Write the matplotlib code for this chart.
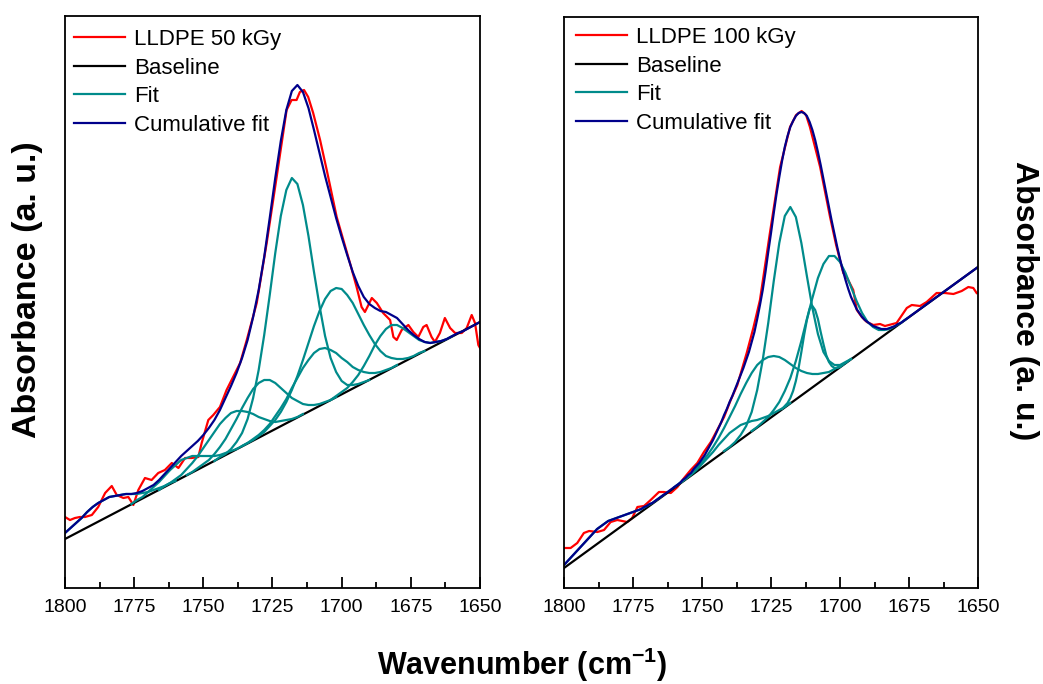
import numpy as np
import matplotlib
matplotlib.use("Agg")
import matplotlib.pyplot as plt

plt.rcParams['font.family'] = ['Liberation Sans', 'DejaVu Sans']
plt.rcParams['mathtext.fontset'] = 'custom'
plt.rcParams['mathtext.bf'] = 'Liberation Sans:bold'
plt.rcParams['mathtext.rm'] = 'Liberation Sans'

# ---- LLDPE 50 kGy (absorbance in arbitrary units) ----
l50_wn = [1800.0, 1798.2, 1796.4, 1794.6, 1792.8, 1790.3, 1788.0, 1785.5, 1783.1, 1781.3, 1778.9, 1777.1,
          1775.3, 1773.5, 1771.1, 1768.7, 1766.3, 1763.9, 1761.4, 1759.0, 1756.6, 1754.2, 1751.8, 1750.6,
          1748.2, 1746.4, 1744.0, 1741.6, 1736.7, 1734.3, 1730.7, 1727.1, 1723.5, 1719.9, 1718.1, 1716.3,
          1715.1, 1713.6, 1712.1, 1710.3, 1707.8, 1705.4, 1701.8, 1699.4, 1697.0, 1694.6, 1692.8, 1691.6,
          1689.1, 1687.3, 1685.0, 1682.5, 1681.3, 1680.1, 1678.3, 1675.9, 1674.1, 1672.3, 1670.5, 1669.3,
          1667.5, 1666.3, 1664.5, 1662.7, 1660.8, 1659.0, 1656.6, 1654.8, 1653.0, 1651.8, 1650.6, 1650.0]
l50_abs = [71, 68, 70, 71, 71, 73, 81, 95, 102, 93, 90, 91, 83, 98, 110, 108, 115, 118, 125, 120, 130, 130,
           131, 145, 168, 173, 181, 198, 225, 248, 285, 345, 411, 478, 488, 488, 496, 498, 491, 475, 448, 418,
           371, 348, 325, 301, 281, 276, 290, 285, 275, 268, 251, 248, 258, 263, 256, 251, 261, 263, 251, 246,
           255, 270, 260, 255, 255, 260, 273, 265, 243, 240]
l50_base_wn = [1800, 1650]
l50_base = [49, 266]
# cumulative fit, every 2 cm-1 from 1800
l50_cum = [55, 60, 65, 70, 76, 81, 85, 88, 91, 92, 93, 94, 94, 95, 97, 100, 103, 108, 114, 120, 126, 132, 137,
           142, 147, 153, 160, 168, 178, 190, 202, 215, 230, 248, 271, 298, 331, 370, 410, 447, 478, 497, 503,
           496, 480, 458, 435, 412, 391, 370, 351, 333, 316, 302, 291, 284, 280, 277, 276, 273, 270, 264, 258,
           253, 249, 246, 245, 246, 247, 249, 252, 255, 257, 260, 263, 266]
# fitted peaks, every 2 cm-1 from the given start
l50_fit_start = [1800, 1776, 1766, 1756, 1746, 1738, 1736, 1704]
l50_fit1 = [55, 60, 65, 70, 76, 81, 85, 88, 91, 92, 93, 94, 94, 94, 95, 96, 98, 100, 102, 105, 107]
l50_fit2 = [84, 88, 91, 96, 101, 106, 112, 118, 123, 128, 130, 132, 132, 132, 132, 132, 133, 135, 137, 139]
l50_fit3 = [98, 102, 105, 109, 113, 119, 125, 132, 140, 148, 156, 164, 170, 175, 177, 177, 176, 174, 171, 169,
            167, 166, 167, 168, 169, 171, 174]
l50_fit4 = [113, 116, 120, 124, 128, 134, 141, 149, 159, 169, 180, 190, 199, 205, 208, 208, 205, 200, 195, 190,
            187, 184, 183, 183, 184, 186, 188, 191]
l50_fit5 = [127, 131, 134, 139, 146, 155, 169, 190, 218, 253, 293, 335, 372, 398, 410, 404, 383, 352, 316, 282,
            252, 230, 216, 207, 203, 203, 204, 206, 208]
l50_fit6 = [139, 142, 145, 149, 153, 158, 164, 172, 180, 189, 200, 210, 220, 228, 235, 239, 240, 238, 235, 230,
            226, 221, 218, 216, 215, 215, 216, 218, 220, 223]
l50_fit7 = [142, 145, 148, 152, 156, 162, 168, 176, 186, 198, 212, 228, 245, 262, 277, 289, 297, 300, 299, 293,
            285, 274, 263, 253, 244, 237, 232, 230, 229, 229, 230, 232, 235, 237]
l50_fit8 = [188, 192, 196, 200, 206, 213, 222, 232, 243, 252, 259, 263, 263, 260, 256, 252, 248, 246, 245, 246,
            247, 249, 252]

# ---- LLDPE 100 kGy ----
l100_wn = [1800.0, 1797.6, 1795.2, 1792.8, 1790.9, 1787.9, 1785.5, 1783.1, 1780.7, 1777.1, 1775.3, 1773.4,
           1771.0, 1768.6, 1765.6, 1763.8, 1761.3, 1758.9, 1756.5, 1754.1, 1751.7, 1749.3, 1746.8, 1744.5,
           1742.0, 1739.6, 1737.2, 1733.8, 1731.4, 1729.0, 1725.4, 1721.7, 1718.1, 1715.9, 1713.9, 1712.3,
           1710.9, 1707.2, 1703.6, 1701.4, 1698.8, 1697.6, 1695.2, 1693.9, 1692.1, 1690.3, 1687.9, 1685.5,
           1683.7, 1679.5, 1675.8, 1674.0, 1671.0, 1668.6, 1665.0, 1662.0, 1658.9, 1655.9, 1653.5, 1651.7, 1650.5]
l100_abs = [40, 40, 45, 55, 57, 56, 58, 66, 68, 66, 70, 81, 82, 88, 96, 96, 95, 101, 110, 118, 125, 136, 146,
            158, 171, 188, 203, 235, 260, 288, 355, 421, 461, 473, 477, 473, 461, 421, 371, 343, 315, 311, 298,
            278, 271, 266, 263, 264, 262, 265, 280, 283, 282, 286, 295, 295, 294, 297, 301, 300, 295]
l100_base_wn = [1800, 1650]
l100_base = [20, 321]
# cumulative fit, every 1 cm-1 from 1800
l100_cum = [23, 26, 29, 32, 35, 38, 41, 44, 47, 50,
            53, 56, 59, 61, 63, 65, 67, 68, 69, 70,
            71, 72, 73, 74, 75, 76, 77, 78, 79, 81,
            82, 84, 85, 87, 89, 91, 93, 95, 97, 99,
            101, 103, 105, 108, 110, 113, 115, 119, 122, 125,
            129, 133, 138, 143, 148, 154, 160, 166, 173, 179,
            186, 192, 199, 206, 213, 220, 228, 236, 246, 256,
            269, 283, 298, 316, 336, 355, 375, 394, 411, 427,
            441, 452, 461, 467, 472, 475, 476, 475, 472, 466,
            458, 448, 436, 423, 409, 395, 381, 367, 354, 341,
            329, 318, 308, 299, 291, 285, 279, 275, 271, 268,
            266, 264, 262, 261, 260, 259, 259, 259, 260, 261,
            262, 264, 265, 267, 269, 271, 273, 275, 277, 279,
            281, 283, 285, 287, 289, 291, 293, 295, 297, 299,
            301, 303, 305, 307, 309, 311, 313, 315, 317, 319,
            321]
l100_fit_start = [1800, 1758, 1760, 1742, 1721, 1732]
l100_fit_step = [2, 2, 2, 2, 1, 2]
l100_fit1 = [23, 29, 35, 41, 47, 53, 59, 63, 67, 69, 71, 73, 75, 77, 79, 82, 85, 89, 93]
l100_fit2 = [105, 109, 113, 118, 124, 130, 136, 143, 149, 155, 159, 163, 165, 167, 168, 170, 172, 175, 178,
             181, 185]
l100_fit3 = [101, 105, 109, 114, 120, 126, 133, 141, 150, 160, 171, 182, 194, 205, 215, 223, 228, 231, 232,
             231, 228, 224, 220, 217, 215, 214, 214, 215, 216, 219, 222, 225, 229]
l100_fit4 = [137, 141, 146, 153, 162, 176, 198, 228, 265, 307, 345, 372, 381, 371, 345, 312, 280, 254, 236,
             227, 223, 223, 226, 229]
l100_fit5 = [179, 182, 185, 190, 197, 207, 220, 236, 253, 268, 279, 282, 278, 269, 256, 244, 233, 226, 222,
             220, 220, 221, 223]
l100_fit6 = [157, 161, 166, 171, 178, 186, 197, 210, 227, 247, 269, 290, 310, 324, 332, 332, 326, 315, 301,
             287, 275, 266, 261, 258, 258, 259, 262, 265, 269]

x_major = [1800, 1775, 1750, 1725, 1700, 1675, 1650]

RED = '#ff0000'
TEAL = '#008b8b'
NAVY = '#00008b'


def draw_panel(ax, label, wn, absb, base_wn, base, cum, cum_step, fit_start, fit_step, fits, ytop,
               leg_anchor):
    ax.plot(wn, absb, color=RED, lw=1.6, label=label)
    ax.plot(base_wn, base, color='black', lw=1.6, label='Baseline')
    for i, (start, step, f) in enumerate(zip(fit_start, fit_step, fits)):
        x = start - step * np.arange(len(f))
        ax.plot(x, f, color=TEAL, lw=1.6, label='Fit' if i == 0 else None)
    xc = 1800 - cum_step * np.arange(len(cum))
    ax.plot(xc, cum, color=NAVY, lw=1.6, label='Cumulative fit')

    ax.set_xlim(1800, 1650)
    ax.set_ylim(0, ytop)
    ax.set_yticks([])
    ax.set_xticks(x_major)
    ax.set_xticks(np.arange(1787.5, 1650, -25), minor=True)
    ax.tick_params(axis='x', which='both', direction='in', top=False, labelsize=14, width=1.3)
    ax.tick_params(axis='x', which='major', length=8, pad=8)
    ax.tick_params(axis='x', which='minor', length=4)
    for sp in ax.spines.values():
        sp.set_linewidth(1.3)
    ax.legend(loc='upper left', bbox_to_anchor=leg_anchor, frameon=False, fontsize=16,
              handlelength=2.3, labelspacing=0.34, borderaxespad=0, borderpad=0.36,
              handletextpad=0.4)


fig = plt.figure(figsize=(10.43, 6.84), dpi=100)
ax1 = fig.add_axes([65 / 1043, 96 / 684, 415 / 1043, 572 / 684])
ax2 = fig.add_axes([564 / 1043, 96 / 684, 414 / 1043, 571 / 684])

draw_panel(ax1, 'LLDPE 50 kGy', l50_wn, l50_abs, l50_base_wn, l50_base, l50_cum, 2,
           l50_fit_start, [2] * 8,
           [l50_fit1, l50_fit2, l50_fit3, l50_fit4, l50_fit5, l50_fit6, l50_fit7, l50_fit8],
           572, (0.002, 0.991))
draw_panel(ax2, 'LLDPE 100 kGy', l100_wn, l100_abs, l100_base_wn, l100_base, l100_cum, 1,
           l100_fit_start, l100_fit_step,
           [l100_fit1, l100_fit2, l100_fit3, l100_fit4, l100_fit5, l100_fit6],
           571, (0.01, 0.9965))

ax1.set_ylabel("Absorbance (a. u.)", fontsize=24.5, fontweight='bold')
ax1.yaxis.set_label_coords(-0.053, 0.521)
ax2.yaxis.set_label_position('right')
ax2.set_ylabel("Absorbance (a. u.)", fontsize=23, fontweight='bold', rotation=270, va='bottom')
ax2.yaxis.set_label_coords(1.075, 0.503)
fig.text(0.501, 0.0, r"Wavenumber (cm$^{\mathbf{-1}}$)", fontsize=22, fontweight='bold',
         ha='center', va='bottom')

fig.savefig("out.png", dpi=100)
